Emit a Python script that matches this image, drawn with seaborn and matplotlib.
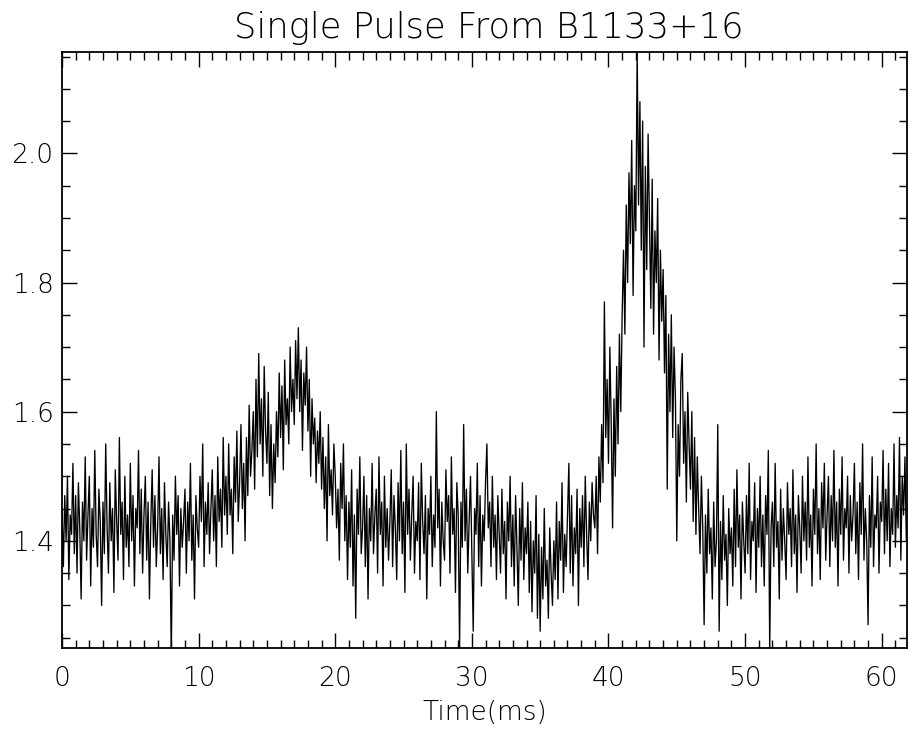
import numpy as np
import pandas as pd
import matplotlib
matplotlib.use("Agg")
import matplotlib.pyplot as plt
from matplotlib.ticker import MultipleLocator, FormatStrFormatter
import seaborn as sns

# ---- data (10 samples per ms) ----
title = "Single Pulse From B1133+16"
xlabel = "Time(ms)"
sample_step_ms = 0.1

baseline_0_12 = [
    1.45, 1.36, 1.47, 1.40, 1.50, 1.34, 1.44, 1.41, 1.52, 1.38,
    1.47, 1.35, 1.49, 1.42, 1.31, 1.46, 1.40, 1.53, 1.37, 1.44,
    1.50, 1.33, 1.45, 1.39, 1.54, 1.41, 1.36, 1.48, 1.43, 1.30,
    1.46, 1.38, 1.55, 1.42, 1.35, 1.49, 1.40, 1.45, 1.32, 1.51,
    1.43, 1.37, 1.56, 1.41, 1.46, 1.34, 1.50, 1.39, 1.44, 1.36,
    1.52, 1.40, 1.47, 1.33, 1.45, 1.42, 1.54, 1.38, 1.48, 1.35,
    1.44, 1.50, 1.37, 1.46, 1.31, 1.43, 1.51, 1.39, 1.47, 1.36,
    1.42, 1.53, 1.38, 1.45, 1.34, 1.49, 1.41, 1.36, 1.46, 1.40,
    1.22, 1.44, 1.37, 1.50, 1.41, 1.47, 1.33, 1.45, 1.39, 1.43,
    1.48, 1.35, 1.46, 1.40, 1.52, 1.37, 1.44, 1.31, 1.47, 1.42,
    1.39, 1.50, 1.43, 1.55, 1.36, 1.46, 1.41, 1.49, 1.38, 1.45,
    1.51, 1.40, 1.47, 1.36, 1.53, 1.43, 1.48, 1.39, 1.56, 1.44,
]

first_component_12_22 = [
    1.50, 1.41, 1.55, 1.44, 1.48, 1.38, 1.53, 1.46, 1.57, 1.43,
    1.49, 1.58, 1.45, 1.52, 1.40, 1.56, 1.47, 1.61, 1.50, 1.54,
    1.60, 1.48, 1.65, 1.53, 1.69, 1.55, 1.62, 1.50, 1.67, 1.57,
    1.52, 1.63, 1.47, 1.58, 1.45, 1.55, 1.49, 1.60, 1.53, 1.66,
    1.56, 1.64, 1.51, 1.68, 1.58, 1.62, 1.55, 1.70, 1.60, 1.65,
    1.58, 1.71, 1.62, 1.73, 1.60, 1.68, 1.54, 1.66, 1.61, 1.70,
    1.57, 1.65, 1.50, 1.62, 1.55, 1.59, 1.49, 1.57, 1.52, 1.60,
    1.48, 1.56, 1.45, 1.53, 1.40, 1.58, 1.47, 1.51, 1.44, 1.55,
    1.50, 1.42, 1.48, 1.37, 1.52, 1.45, 1.55, 1.40, 1.47, 1.34,
    1.46, 1.39, 1.51, 1.33, 1.44, 1.28, 1.48, 1.41, 1.53, 1.38,
]

baseline_22_39 = [
    1.42, 1.50, 1.36, 1.47, 1.31, 1.45, 1.40, 1.52, 1.38, 1.44,
    1.48, 1.35, 1.53, 1.41, 1.46, 1.33, 1.50, 1.39, 1.45, 1.37,
    1.43, 1.51, 1.36, 1.47, 1.42, 1.34, 1.49, 1.40, 1.54, 1.38,
    1.46, 1.32, 1.55, 1.41, 1.48, 1.37, 1.44, 1.50, 1.35, 1.43,
    1.40, 1.49, 1.34, 1.52, 1.43, 1.38, 1.47, 1.31, 1.45, 1.41,
    1.50, 1.36, 1.44, 1.39, 1.60, 1.42, 1.48, 1.33, 1.46, 1.40,
    1.37, 1.51, 1.43, 1.47, 1.35, 1.53, 1.41, 1.45, 1.32, 1.49,
    1.44, 1.23, 1.46, 1.39, 1.58, 1.40, 1.48, 1.35, 1.43, 1.50,
    1.38, 1.26, 1.45, 1.41, 1.52, 1.36, 1.47, 1.33, 1.44, 1.40,
    1.49, 1.55, 1.42, 1.46, 1.36, 1.50, 1.39, 1.44, 1.34, 1.47,
    1.41, 1.35, 1.48, 1.38, 1.43, 1.31, 1.46, 1.40, 1.50, 1.36,
    1.44, 1.33, 1.47, 1.39, 1.30, 1.45, 1.37, 1.49, 1.34, 1.42,
    1.38, 1.46, 1.32, 1.43, 1.29, 1.40, 1.35, 1.47, 1.28, 1.41,
    1.26, 1.39, 1.31, 1.45, 1.33, 1.37, 1.28, 1.42, 1.35, 1.30,
    1.40, 1.34, 1.46, 1.31, 1.43, 1.37, 1.49, 1.32, 1.41, 1.36,
    1.44, 1.52, 1.35, 1.47, 1.33, 1.42, 1.38, 1.48, 1.30, 1.45,
    1.39, 1.47, 1.36, 1.50, 1.41, 1.34, 1.46, 1.40, 1.49, 1.44,
]

main_pulse_39_47 = [
    1.42, 1.50, 1.38, 1.53, 1.46, 1.58, 1.49, 1.77, 1.56, 1.65,
    1.52, 1.70, 1.58, 1.42, 1.62, 1.50, 1.67, 1.55, 1.72, 1.60,
    1.75, 1.85, 1.72, 1.92, 1.80, 1.97, 1.86, 2.02, 1.78, 1.95,
    1.88, 2.16, 1.92, 2.08, 1.85, 2.05, 1.70, 1.98, 1.82, 2.03,
    1.90, 1.76, 1.96, 1.72, 1.88, 1.80, 1.93, 1.68, 1.85, 1.74,
    1.82, 1.66, 1.78, 1.48, 1.72, 1.60, 1.75, 1.56, 1.70, 1.62,
    1.40, 1.58, 1.50, 1.65, 1.69, 1.52, 1.60, 1.46, 1.63, 1.55,
    1.48, 1.60, 1.43, 1.56, 1.41, 1.53, 1.45, 1.38, 1.50, 1.42,
]

baseline_47_62 = [
    1.27, 1.44, 1.35, 1.48, 1.38, 1.42, 1.31, 1.46, 1.36, 1.40,
    1.58, 1.26, 1.43, 1.34, 1.47, 1.37, 1.41, 1.30, 1.45, 1.38,
    1.42, 1.33, 1.48, 1.36, 1.51, 1.39, 1.44, 1.31, 1.46, 1.40,
    1.35, 1.47, 1.38, 1.52, 1.34, 1.43, 1.40, 1.49, 1.32, 1.45,
    1.39, 1.50, 1.36, 1.44, 1.33, 1.47, 1.41, 1.54, 1.23, 1.42,
    1.46, 1.36, 1.52, 1.39, 1.43, 1.31, 1.48, 1.37, 1.45, 1.40,
    1.34, 1.49, 1.41, 1.45, 1.36, 1.51, 1.38, 1.44, 1.32, 1.47,
    1.42, 1.35, 1.50, 1.40, 1.46, 1.37, 1.53, 1.39, 1.44, 1.33,
    1.48, 1.41, 1.55, 1.38, 1.45, 1.34, 1.49, 1.42, 1.52, 1.37,
    1.44, 1.50, 1.36, 1.47, 1.40, 1.54, 1.39, 1.46, 1.33, 1.48,
    1.41, 1.53, 1.37, 1.45, 1.42, 1.50, 1.35, 1.47, 1.40, 1.44,
    1.52, 1.38, 1.46, 1.34, 1.49, 1.41, 1.55, 1.37, 1.45, 1.40,
    1.27, 1.47, 1.39, 1.53, 1.36, 1.44, 1.42, 1.50, 1.35, 1.46,
    1.43, 1.54, 1.38, 1.48, 1.40, 1.52, 1.36, 1.45, 1.41, 1.55,
    1.39, 1.47, 1.42, 1.56, 1.37, 1.50, 1.44, 1.53, 1.40, 1.46,
]

x_major_ticks = [0, 10, 20, 30, 40, 50, 60]
y_major_ticks = [1.4, 1.6, 1.8, 2.0]

intensity = (baseline_0_12 + first_component_12_22 + baseline_22_39
             + main_pulse_39_47 + baseline_47_62)
time_ms = np.arange(len(intensity)) * sample_step_ms
df = pd.DataFrame({"time": time_ms, "intensity": intensity})

# ---- style ----
sns.set_style("ticks")
plt.rcParams["font.family"] = ["DejaVu Sans"]
plt.rcParams["text.color"] = "black"
plt.rcParams["xtick.color"] = "black"
plt.rcParams["ytick.color"] = "black"
plt.rcParams["axes.labelcolor"] = "black"

fig = plt.figure(figsize=(9.08, 7.32), dpi=100)
ax = fig.add_axes([62 / 908, 84 / 732, 845 / 908, 596 / 732])

sns.lineplot(data=df, x="time", y="intensity", ax=ax, color="black",
             linewidth=0.95, estimator=None, sort=False)

ax.set_xlim(0, 61.85)
ax.set_ylim(1.234, 2.157)
ax.set_xticks(x_major_ticks)
ax.set_yticks(y_major_ticks)
ax.xaxis.set_minor_locator(MultipleLocator(1))
ax.yaxis.set_minor_locator(MultipleLocator(0.05))
ax.yaxis.set_major_formatter(FormatStrFormatter("%.1f"))

ax.tick_params(which="both", direction="in", top=True, right=True,
               colors="black", labelcolor="black", width=1.0)
ax.tick_params(which="major", length=11)
ax.tick_params(which="minor", length=6)
ax.tick_params(axis="x", which="major", labelsize=19, pad=13)
ax.tick_params(axis="y", which="major", labelsize=19, pad=6)
for lab in ax.get_xticklabels() + ax.get_yticklabels():
    lab.set_fontweight("light")

for s in ax.spines.values():
    s.set_color("black")
    s.set_linewidth(1.3)

ax.set_xlabel(xlabel, fontsize=19, fontweight="light", color="black")
ax.xaxis.set_label_coords(0.5, -0.088)
ax.set_ylabel("")

fig.text(489 / 908, 1 - 38 / 732, title, ha="center", va="baseline",
         fontsize=25.5, fontweight="light", color="black")

fig.savefig("out.png", dpi=100, facecolor="white")
